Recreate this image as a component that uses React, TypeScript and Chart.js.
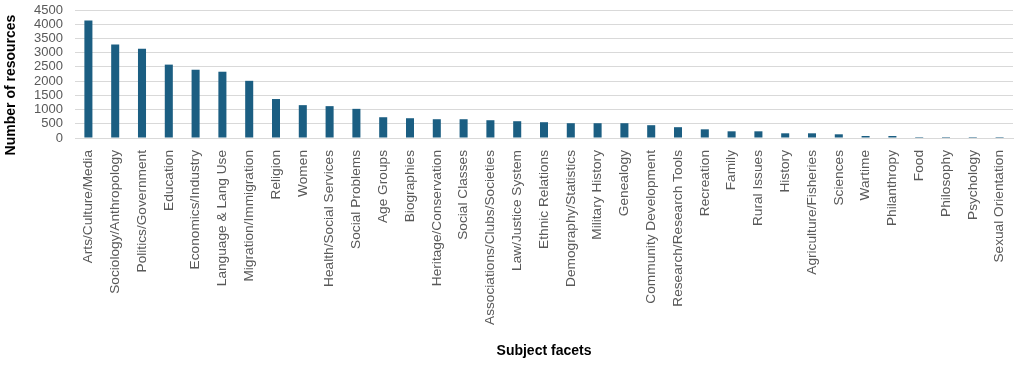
import React, { useEffect, useRef } from "react";
import { Chart, registerables } from "chart.js";

Chart.register(...registerables);

const categories: string[] = [
  "Arts/Culture/Media",
  "Sociology/Anthropology",
  "Politics/Government",
  "Education",
  "Economics/Industry",
  "Language & Lang Use",
  "Migration/Immigration",
  "Religion",
  "Women",
  "Health/Social Services",
  "Social Problems",
  "Age Groups",
  "Biographies",
  "Heritage/Conservation",
  "Social Classes",
  "Associations/Clubs/Societies",
  "Law/Justice System",
  "Ethnic Relations",
  "Demography/Statistics",
  "Military History",
  "Genealogy",
  "Community Development",
  "Research/Research Tools",
  "Recreation",
  "Family",
  "Rural Issues",
  "History",
  "Agriculture/Fisheries",
  "Sciences",
  "Wartime",
  "Philanthropy",
  "Food",
  "Philosophy",
  "Psychology",
  "Sexual Orientation",
];

const resources: number[] = [
  4130, 3290, 3140, 2580, 2400, 2330, 2010, 1370, 1155, 1120, 1025, 730, 695,
  660, 660, 625, 590, 555, 520, 520, 520, 450, 380, 305, 235, 235, 165, 165,
  130, 70, 70, 35, 35, 35, 35,
];

const yTicks: number[] = [0, 500, 1000, 1500, 2000, 2500, 3000, 3500, 4000, 4500];

const yTitle = "Number of resources";
const xTitle = "Subject facets";

const FONT = "'Liberation Sans', Arial, sans-serif";

const yTitlePlugin = {
  id: "yTitlePlugin",
  afterDraw(chart: any) {
    const ctx = chart.ctx;
    ctx.save();
    ctx.font = `bold 14px ${FONT}`;
    ctx.fillStyle = "#000000";
    ctx.textAlign = "center";
    ctx.textBaseline = "middle";
    ctx.translate(11, 85);
    ctx.rotate(-Math.PI / 2);
    ctx.fillText(yTitle, 0, 0);
    ctx.restore();
  },
};

export default function App() {
  const ref = useRef<HTMLCanvasElement | null>(null);

  useEffect(() => {
    document.body.style.margin = "0";
    const canvas = ref.current;
    if (!canvas) return;
    const chart = new Chart(canvas, {
      type: "bar",
      data: {
        labels: categories,
        datasets: [
          {
            label: yTitle,
            data: resources,
            backgroundColor: "#1b5e82",
            barPercentage: 0.6,
            categoryPercentage: 0.5,
          },
        ],
      },
      plugins: [yTitlePlugin],
      options: {
        animation: false,
        responsive: false,
        maintainAspectRatio: false,
        layout: { padding: { top: 10, right: 6, left: 0, bottom: 0 } },
        plugins: {
          legend: { display: false },
          tooltip: { enabled: false },
        },
        scales: {
          x: {
            grid: { display: false },
            border: { display: true, color: "#d9d9d9" },
            afterFit: (scale: any) => {
              scale.height = 227;
              scale.paddingLeft = 0;
              scale.paddingRight = 0;
            },
            ticks: {
              color: "#595959",
              font: { family: FONT, size: 13.7 },
              maxRotation: 90,
              minRotation: 90,
              autoSkip: false,
              padding: 4,
            },
            title: {
              display: true,
              text: xTitle,
              color: "#000000",
              font: { family: FONT, size: 14, weight: "bold" },
              padding: { top: 4, bottom: 5 },
            },
          },
          y: {
            min: 0,
            max: 4500,
            afterBuildTicks: (axis: any) => {
              axis.ticks = yTicks.map((v) => ({ value: v }));
            },
            afterFit: (scale: any) => {
              scale.width = 75;
              scale.paddingTop = 0;
              scale.paddingBottom = 0;
            },
            grid: { color: "#d9d9d9", lineWidth: 1, drawTicks: false },
            border: { display: false },
            ticks: {
              color: "#595959",
              font: { family: FONT, size: 13 },
              padding: 12,
              autoSkip: false,
              callback: (v: any) => String(v),
            },
          },
        },
      },
    });
    return () => chart.destroy();
  }, []);

  return (
    <div style={{ width: 1019, height: 365 }}>
      <canvas ref={ref} width={1019} height={365} style={{ display: "block" }} />
    </div>
  );
}
